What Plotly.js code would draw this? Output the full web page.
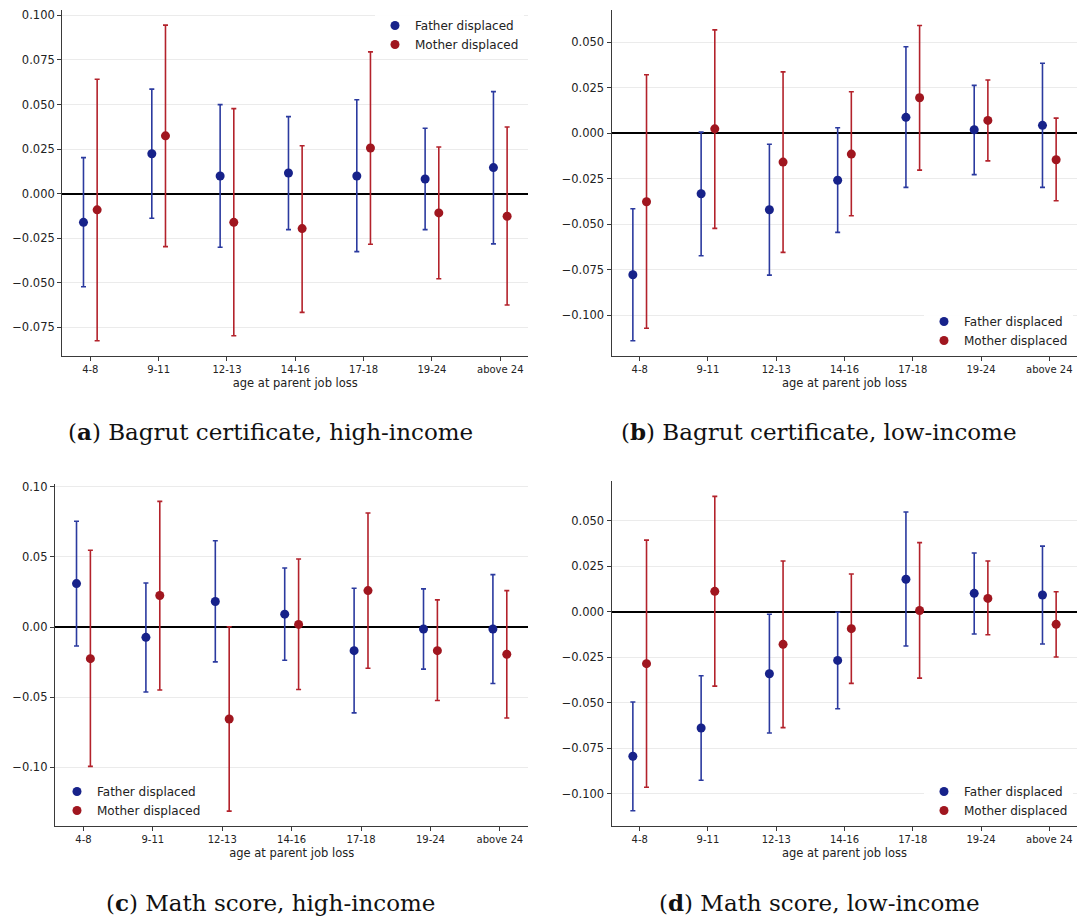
<!DOCTYPE html>
<html>
<head>
<meta charset="utf-8">
<script src="https://cdn.plot.ly/plotly-3.0.1.min.js"></script>
<style>
  html, body { margin: 0; padding: 0; background: #fff; }
  #chart { width: 1078px; height: 920px; }
</style>
</head>
<body>
<div id="chart"></div>
<script>
// Age of the child when the parent lost the job
const ageGroups = ['4-8', '9-11', '12-13', '14-16', '17-18', '19-24', 'above 24'];

// (a) Bagrut certificate, high-income: point estimates and 95% CI bounds
const fatherA    = [-0.0161, 0.0224, 0.0099, 0.0116, 0.0099, 0.0082, 0.0146];
const fatherA_lo = [-0.0522, -0.0138, -0.0301, -0.0202, -0.0325, -0.0202, -0.0282];
const fatherA_hi = [0.0202, 0.0586, 0.0499, 0.0432, 0.0527, 0.0367, 0.0572];
const motherA    = [-0.0091, 0.0324, -0.0161, -0.0196, 0.0256, -0.0108, -0.0127];
const motherA_lo = [-0.0825, -0.0297, -0.0797, -0.0666, -0.0284, -0.0477, -0.0625];
const motherA_hi = [0.0642, 0.0945, 0.0477, 0.0269, 0.0795, 0.0262, 0.0374];

// (b) Bagrut certificate, low-income
const fatherB    = [-0.0777, -0.0332, -0.0420, -0.0258, 0.0088, 0.0020, 0.0044];
const fatherB_lo = [-0.1140, -0.0673, -0.0779, -0.0544, -0.0297, -0.0227, -0.0297];
const fatherB_hi = [-0.0414, 0.0007, -0.0060, 0.0031, 0.0476, 0.0264, 0.0385];
const motherB    = [-0.0376, 0.0025, -0.0158, -0.0114, 0.0196, 0.0071, -0.0145];
const motherB_lo = [-0.1071, -0.0522, -0.0654, -0.0453, -0.0202, -0.0151, -0.0370];
const motherB_hi = [0.0322, 0.0569, 0.0338, 0.0229, 0.0593, 0.0293, 0.0084];

// (c) Math score, high-income
const fatherC    = [0.0310, -0.0073, 0.0182, 0.0092, -0.0168, -0.0014, -0.0014];
const fatherC_lo = [-0.0135, -0.0463, -0.0248, -0.0236, -0.0612, -0.0300, -0.0402];
const fatherC_hi = [0.0754, 0.0314, 0.0615, 0.0421, 0.0277, 0.0272, 0.0374];
const motherC    = [-0.0225, 0.0225, -0.0655, 0.0019, 0.0260, -0.0168, -0.0194];
const motherC_lo = [-0.0993, -0.0449, -0.1312, -0.0445, -0.0293, -0.0523, -0.0648];
const motherC_hi = [0.0548, 0.0896, 0.0002, 0.0485, 0.0813, 0.0194, 0.0260];

// (d) Math score, low-income
const fatherD    = [-0.0793, -0.0638, -0.0340, -0.0267, 0.0178, 0.0101, 0.0092];
const fatherD_lo = [-0.1092, -0.0925, -0.0665, -0.0532, -0.0188, -0.0122, -0.0177];
const fatherD_hi = [-0.0495, -0.0351, -0.0014, -0.0003, 0.0547, 0.0322, 0.0360];
const motherD    = [-0.0285, 0.0112, -0.0179, -0.0093, 0.0007, 0.0073, -0.0069];
const motherD_lo = [-0.0963, -0.0408, -0.0636, -0.0393, -0.0364, -0.0126, -0.0248];
const motherD_hi = [0.0393, 0.0633, 0.0278, 0.0207, 0.0379, 0.0278, 0.0110];

// Y-axis tick values for each panel
const yTicksA = [-0.075, -0.05, -0.025, 0, 0.025, 0.05, 0.075, 0.1];
const yTicksB = [-0.1, -0.075, -0.05, -0.025, 0, 0.025, 0.05];
const yTicksC = [-0.1, -0.05, 0, 0.05, 0.1];
const yTicksD = [-0.1, -0.075, -0.05, -0.025, 0, 0.025, 0.05];

const captions = [
  '(<b>a</b>) Bagrut certificate, high-income',
  '(<b>b</b>) Bagrut certificate, low-income',
  '(<b>c</b>) Math score, high-income',
  '(<b>d</b>) Math score, low-income'
];
const seriesNames = ['Father displaced', 'Mother displaced'];

// Panel table assembled from the arrays above
const panels = [
  { f: fatherA, fLo: fatherA_lo, fHi: fatherA_hi, m: motherA, mLo: motherA_lo, mHi: motherA_hi, ticks: yTicksA, dec: 3 },
  { f: fatherB, fLo: fatherB_lo, fHi: fatherB_hi, m: motherB, mLo: motherB_lo, mHi: motherB_hi, ticks: yTicksB, dec: 3 },
  { f: fatherC, fLo: fatherC_lo, fHi: fatherC_hi, m: motherC, mLo: motherC_lo, mHi: motherC_hi, ticks: yTicksC, dec: 2 },
  { f: fatherD, fLo: fatherD_lo, fHi: fatherD_hi, m: motherD, mLo: motherD_lo, mHi: motherD_hi, ticks: yTicksD, dec: 3 }
];

const W = 1078, H = 920;
const px = v => v / W;
const py = v => 1 - v / H;

// Panel geometry (pixels): plot-area box, y-range, legend spot, caption centre
const geom = [
  { x0: 62.3, x1: 528.3, yT: 10, yB: 355.7, yr: [-0.0909, 0.103], lx: 375, ly: 11, cx: 270, cy: 432 },
  { x0: 611.7, x1: 1077.3, yT: 10, yB: 355.7, yr: [-0.1222, 0.0678], lx: 924, ly: 307, cx: 819, cy: 432 },
  { x0: 55, x1: 528.3, yT: 484, yB: 825.7, yr: [-0.1416, 0.102], lx: 57, ly: 777, cx: 270.5, cy: 902 },
  { x0: 611.7, x1: 1077.3, yT: 480.7, yB: 825.7, yr: [-0.1174, 0.0719], lx: 924, ly: 777, cx: 819.5, cy: 902 }
];

const colors = {
  father: { marker: '#17228a', bar: '#2b3a9f' },
  mother: { marker: '#a0161f', bar: '#b3222b' }
};

const OFFSET = 0.1; // horizontal dodge between the two series
const xs = ageGroups.map((_, i) => i);

// Tick text with a typographic minus sign
const fmtTick = (v, d) => (v < 0 ? '\u2212' : '') + Math.abs(v).toFixed(d);

const traces = [];
const layout = {
  width: W, height: H,
  margin: { l: 0, r: 0, t: 0, b: 0 },
  paper_bgcolor: '#ffffff',
  plot_bgcolor: '#ffffff',
  font: { family: 'DejaVu Sans, sans-serif', size: 11, color: '#222222' },
  annotations: [],
  showlegend: true
};

function errs(est, lo, hi) {
  return {
    type: 'data', symmetric: false,
    array: est.map((v, i) => hi[i] - v),
    arrayminus: est.map((v, i) => v - lo[i])
  };
}

panels.forEach((p, k) => {
  const g = geom[k];
  const n = k === 0 ? '' : String(k + 1);
  const xa = 'x' + n, ya = 'y' + n;
  const legName = 'legend' + n;

  [['father', p.f, p.fLo, p.fHi, -OFFSET, 0], ['mother', p.m, p.mLo, p.mHi, OFFSET, 1]].forEach(s => {
    const c = colors[s[0]];
    const e = errs(s[1], s[2], s[3]);
    traces.push({
      type: 'scatter', mode: 'markers',
      name: seriesNames[s[5]],
      x: xs.map(v => v + s[4]), y: s[1],
      xaxis: xa, yaxis: ya, legend: legName,
      marker: { color: c.marker, size: 9 },
      error_y: Object.assign(e, { color: c.bar, thickness: 1.6, width: 2.5 }),
      hoverinfo: 'y'
    });
  });

  layout['xaxis' + n] = {
    domain: [px(g.x0), px(g.x1)],
    anchor: ya,
    range: [-0.41, 6.41],
    tickmode: 'array', tickvals: xs, ticktext: ageGroups,
    showgrid: false, zeroline: false,
    showline: true, linecolor: '#3a3a3a', linewidth: 1.2,
    ticks: 'outside', ticklen: 4, tickwidth: 1, tickcolor: '#3a3a3a',
    tickfont: { size: 10, color: '#222' },
    title: { text: 'age at parent job loss', font: { size: 11.5, color: '#222' }, standoff: 5 },
    fixedrange: true
  };
  layout['yaxis' + n] = {
    domain: [py(g.yB), py(g.yT)],
    anchor: xa,
    range: g.yr,
    tickmode: 'array', tickvals: p.ticks, ticktext: p.ticks.map(v => fmtTick(v, p.dec)),
    showgrid: true, gridcolor: '#ebebeb', gridwidth: 1,
    zeroline: true, zerolinecolor: '#000000', zerolinewidth: 1.8,
    showline: true, linecolor: '#3a3a3a', linewidth: 1.2,
    ticks: 'outside', ticklen: 4, tickwidth: 1, tickcolor: '#3a3a3a',
    tickfont: { size: 11.5, color: '#222' },
    fixedrange: true
  };
  layout[legName] = {
    x: px(g.lx), xanchor: 'left',
    y: py(g.ly), yanchor: 'top',
    bgcolor: 'rgba(255,255,255,0.95)', borderwidth: 0,
    font: { size: 12, color: '#222' },
    tracegroupgap: 0
  };
  layout.annotations.push({
    xref: 'paper', yref: 'paper',
    x: px(g.cx), y: py(g.cy), xanchor: 'center', yanchor: 'middle',
    text: captions[k], showarrow: false,
    font: { family: 'DejaVu Serif, serif', size: 23, color: '#111' }
  });
});

Plotly.newPlot('chart', traces, layout, { displayModeBar: false, staticPlot: true });
</script>
</body>
</html>
